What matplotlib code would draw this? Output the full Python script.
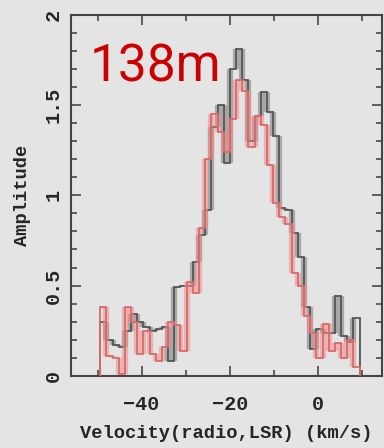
import numpy as np
import matplotlib
matplotlib.use("Agg")
import matplotlib.pyplot as plt
from matplotlib.ticker import MultipleLocator, FixedLocator

# Channel edges (km/s): start and width
v_start = -49.4
v_width = 1.4

gray_amp = [0.30, 0.20, 0.17, 0.16, 0.25, 0.34, 0.30, 0.27, 0.25, 0.26,
            0.27, 0.08, 0.49, 0.50, 0.50, 0.63, 0.78, 0.92, 1.38, 1.50,
            1.18, 1.70, 1.81, 1.64, 1.30, 1.44, 1.57, 1.46, 1.33, 0.93,
            0.92, 0.79, 0.66, 0.38, 0.15, 0.26, 0.24, 0.24, 0.44, 0.22,
            0.19, 0.32]
pink_amp = [0.38, 0.11, 0.10, 0.01, 0.38, 0.30, 0.12, 0.25, 0.12, 0.08,
            0.16, 0.30, 0.28, 0.14, 0.52, 0.46, 0.82, 1.20, 1.45, 1.35,
            1.24, 1.42, 1.64, 1.58, 1.27, 1.44, 1.39, 1.17, 0.96, 0.88,
            0.84, 0.57, 0.50, 0.33, 0.24, 0.10, 0.29, 0.14, 0.18, 0.10,
            0.20, 0.05]

x_major = [-40, -20, 0]
y_major = [0, 0.5, 1, 1.5, 2]
y_labels = ["0", "0.5", "1", "1.5", "2"]

edges = v_start + v_width * np.arange(len(gray_amp) + 1)

bg = "#e4e4e4"
fig = plt.figure(figsize=(3.84, 4.48), dpi=100, facecolor=bg)
ax = fig.add_axes([0.185, 0.161, 0.810, 0.806], facecolor=bg)

mono = ["Liberation Mono", "DejaVu Sans Mono"]
txt = "#262626"


def draw(vals, color, vcolor, lw, z):
    vals = np.asarray(vals)
    ax.stairs(vals, edges, color=color, lw=lw, zorder=z)
    lo = np.minimum(vals[:-1], vals[1:])
    hi = np.maximum(vals[:-1], vals[1:])
    ax.vlines(edges[1:-1], lo, hi, color=vcolor, lw=4.5, alpha=0.55, zorder=z - 0.5)


draw(gray_amp, "#555555", "#7a7a7a", 1.3, 3)
draw(pink_amp, "#d86a6a", "#f08a8a", 1.3, 4)

ax.set_xlim(-56, 14.5)
ax.set_ylim(0, 2)
ax.xaxis.set_major_locator(FixedLocator(x_major))
ax.xaxis.set_minor_locator(MultipleLocator(10))
ax.yaxis.set_major_locator(FixedLocator(y_major))
ax.yaxis.set_minor_locator(MultipleLocator(0.1))
ax.set_xticklabels(["\u221240", "\u221220", "0"])
ax.set_yticklabels(y_labels, rotation=90, va="center")

ax.tick_params(which="both", direction="in", top=True, right=True,
               color="#555555", width=1.3)
ax.tick_params(which="major", length=7, labelsize=14.5, labelcolor=txt, pad=6)
ax.tick_params(axis="x", which="major", pad=14)
ax.tick_params(which="minor", length=4)
for lab in ax.get_xticklabels() + ax.get_yticklabels():
    lab.set_family(mono)
    lab.set_fontweight("bold")

for s in ax.spines.values():
    s.set_color("#444444")
    s.set_linewidth(1.5)

ax.set_xlabel("Velocity(radio,LSR) (km/s)", family=mono, fontweight="bold",
              fontsize=13.5, color=txt, labelpad=8)
ax.set_ylabel("Amplitude", family=mono, fontweight="bold",
              fontsize=13.5, color=txt, labelpad=9)

fig.text(90 / 384, 1 - 82 / 448, "138m", family="Roboto", fontsize=37,
         color="#cc0000", ha="left", va="baseline")

fig.savefig("out.png", dpi=100, facecolor=bg)
